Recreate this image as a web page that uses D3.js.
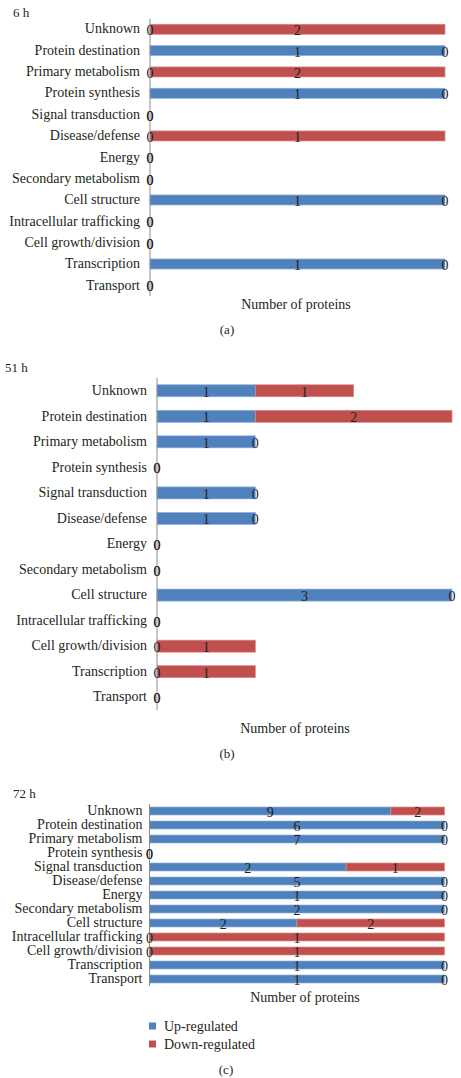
<!DOCTYPE html>
<html>
<head>
<meta charset="utf-8">
<script src="https://cdn.jsdelivr.net/npm/d3@7"></script>
<style>
  body { margin: 0; background: #fff; }
  svg { display: block; }
  text { font-family: "Liberation Serif", "Times New Roman", serif; fill: #231f20; }
</style>
</head>
<body>
<svg id="chart" width="461" height="1078"></svg>
<script>
const categories = ["Unknown","Protein destination","Primary metabolism","Protein synthesis","Signal transduction","Disease/defense","Energy","Secondary metabolism","Cell structure","Intracellular trafficking","Cell growth/division","Transcription","Transport"];
const seriesNames = ["Up-regulated", "Down-regulated"];
const up6    = [0,1,0,1,0,0,0,0,1,0,0,1,0];
const down6  = [2,0,2,0,0,1,0,0,0,0,0,0,0];
const up51   = [1,1,1,0,1,1,0,0,3,0,0,0,0];
const down51 = [1,2,0,0,0,0,0,0,0,0,1,1,0];
const up72   = [9,6,7,0,2,5,1,2,2,0,0,1,1];
const down72 = [2,0,0,0,1,0,0,0,2,1,1,0,0];
const panelTitles = ["6 h", "51 h", "72 h"];
const panelLetters = ["(a)", "(b)", "(c)"];
const axisTitle = "Number of proteins";

const colors = ["#4f81bd", "#c0504d"];
const strokes = ["#8fb0d8", "#d98a88"];
const FONT = '"Liberation Serif", "Times New Roman", serif';
const FS = 14;

const svg = d3.select("#chart");

function drawPanel(cfg) {
  const g = svg.append("g");
  const rows = categories.map((c, i) => {
    const u = cfg.up[i], d = cfg.down[i], t = u + d;
    const norm = cfg.percent ? (t > 0 ? 1 / t : 0) : 1;
    return { cat: c, u, d, u0: 0, u1: u * norm, d0: u * norm, d1: (u + d) * norm };
  });
  const x = d3.scaleLinear().domain([0, cfg.percent ? 1 : cfg.xmax]).range([cfg.x0, cfg.x1]);
  const y = d3.scaleBand().domain(categories).range([cfg.y0, cfg.y1]).paddingInner(cfg.pad).paddingOuter(cfg.pad / 2);

  g.append("text").attr("x", cfg.titleX).attr("y", cfg.titleY).attr("font-size", 13).text(cfg.title);

  rows.forEach(r => {
    [["u0","u1",0],["d0","d1",1]].forEach(([a, b, k]) => {
      const w = x(r[b]) - x(r[a]);
      if (w > 0) {
        g.append("rect")
          .attr("x", x(r[a])).attr("y", y(r.cat))
          .attr("width", w).attr("height", y.bandwidth())
          .attr("fill", colors[k]).attr("stroke", strokes[k]).attr("stroke-width", 0.7);
      }
    });
  });

  const ax = d3.axisLeft(y).tickSize(0).tickPadding(cfg.tickPad);
  const axG = g.append("g").attr("transform", `translate(${cfg.x0},0)`).call(ax)
     .attr("font-family", FONT).attr("font-size", FS);
  axG.select(".domain").attr("stroke", "#8c8c8c").attr("stroke-width", 1)
     .attr("d", `M0,${cfg.y0}V${cfg.y1}`);
  axG.selectAll(".tick text").attr("fill", "#231f20").attr("dy", cfg.tickDy);

  rows.forEach(r => {
    const cy = y(r.cat) + y.bandwidth() / 2 + cfg.labelDy;
    [[r.u0, r.u1, r.u], [r.d0, r.d1, r.d]].forEach(([a, b, v]) => {
      g.append("text").attr("x", (x(a) + x(b)) / 2).attr("y", cy)
        .attr("text-anchor", "middle").attr("dominant-baseline", "central")
        .attr("font-size", FS).text(v);
    });
  });

  g.append("text").attr("x", cfg.axTitleX).attr("y", cfg.axTitleY)
    .attr("text-anchor", "middle").attr("font-size", FS).text(axisTitle);
  g.append("text").attr("x", cfg.letterX).attr("y", cfg.letterY)
    .attr("text-anchor", "middle").attr("font-size", 13).text(cfg.letter);
}

drawPanel({ up: up6, down: down6, percent: true, x0: 150, x1: 445, y0: 18.6, y1: 296, pad: 0.53,
  title: panelTitles[0], titleX: 13, titleY: 17, tickPad: 10, tickDy: "0.3em", labelDy: 1.5,
  axTitleX: 296, axTitleY: 309, letter: panelLetters[0], letterX: 227, letterY: 334 });

drawPanel({ up: up51, down: down51, percent: false, xmax: 3, x0: 157, x1: 452, y0: 378, y1: 710, pad: 0.53,
  title: panelTitles[1], titleX: 5, titleY: 372, tickPad: 10, tickDy: "0.3em", labelDy: 1.5,
  axTitleX: 295, axTitleY: 733, letter: panelLetters[1], letterX: 227, letterY: 758 });

drawPanel({ up: up72, down: down72, percent: true, x0: 149.5, x1: 444.5, y0: 804, y1: 986, pad: 0.43,
  title: panelTitles[2], titleX: 13, titleY: 798, tickPad: 7, tickDy: "0.3em", labelDy: 1.5,
  axTitleX: 305, axTitleY: 1002, letter: panelLetters[2], letterX: 226, letterY: 1074 });

const leg = svg.append("g");
seriesNames.forEach((s, i) => {
  const yy = 1026 + i * 18;
  leg.append("rect").attr("x", 149).attr("y", yy - 3.5).attr("width", 7).attr("height", 7).attr("fill", colors[i]);
  leg.append("text").attr("x", 164).attr("y", yy).attr("dominant-baseline", "central").attr("font-size", FS).text(s);
});
</script>
</body>
</html>
